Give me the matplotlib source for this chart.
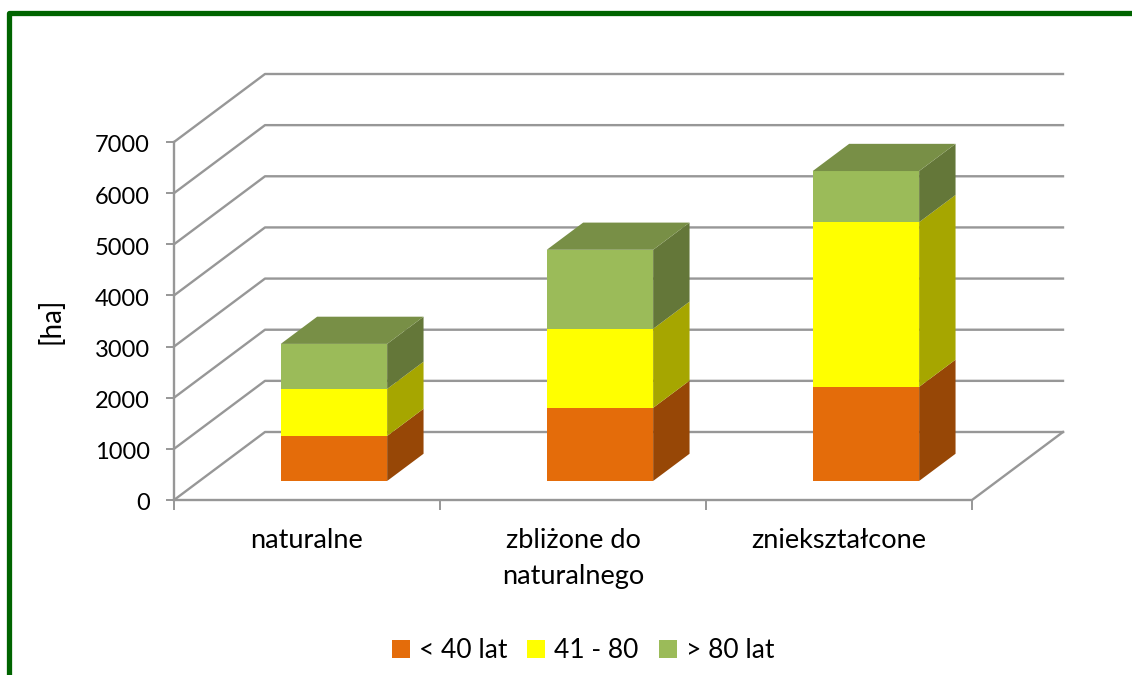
import matplotlib
matplotlib.use('Agg')
import matplotlib.pyplot as plt
from matplotlib.patches import Polygon, Rectangle
from matplotlib.transforms import ScaledTranslation

categories = ['naturalne', 'zbliżone do\nnaturalnego', 'zniekształcone']
young = [880, 1430, 1840]
middle = [920, 1545, 3220]
old = [880, 1545, 1000]
series_names = ['< 40 lat', '41 - 80', '> 80 lat']
yticks = [0, 1000, 2000, 3000, 4000, 5000, 6000, 7000]

front = ['#E46C0A', '#FFFF00', '#9BBB59']
side = ['#974706', '#A6A600', '#647739']
top_col = '#788F46'
grid_col = '#979797'

W, H = 1132, 675
plt.rcParams['font.family'] = ['Lato', 'DejaVu Sans']

fig = plt.figure(figsize=(W / 100, H / 100), dpi=100)
ax = fig.add_axes([174 / W, 1 - 500 / H, 798 / W, 358 / H])
ax.set_xlim(0, 3)
ax.set_ylim(0, 7000)
for s in ax.spines.values():
    s.set_visible(False)
ax.patch.set_visible(False)

# depth of the 3d box in data units
dx = 91 / 266
dy = 68 / 358 * 7000

for y in yticks:
    ax.plot([0, dx, 3 + dx], [y, y + dy, y + dy], color=grid_col, lw=1.7, clip_on=False, zorder=1)
ax.plot([0, 3, 3 + dx], [0, 0, dy], color=grid_col, lw=1.7, clip_on=False, zorder=1)
ax.plot([0, 0], [0, 7000], color=grid_col, lw=1.7, clip_on=False, zorder=1)

bar_w = 0.4
d0 = 0.28
d1 = 0.68
for i in range(3):
    x0 = i + 0.5 - bar_w / 2 + d0 * dx + 0.0055
    x1 = x0 + bar_w
    base = d0 * dy
    ddx = (d1 - d0) * dx
    ddy = (d1 - d0) * dy
    bottom = 0
    vals = [young[i], middle[i], old[i]]
    for k, v in enumerate(vals):
        y0 = base + bottom
        y1 = y0 + v
        ax.add_patch(Polygon([(x1, y0), (x1 + ddx, y0 + ddy), (x1 + ddx, y1 + ddy), (x1, y1)],
                             fc=side[k], ec='none', clip_on=False, zorder=3))
        ax.add_patch(Rectangle((x0, y0), bar_w, v, fc=front[k], ec='none', clip_on=False, zorder=4))
        bottom += v
    y1 = base + bottom
    ax.add_patch(Polygon([(x0, y1), (x1, y1), (x1 + ddx, y1 + ddy), (x0 + ddx, y1 + ddy)],
                         fc=top_col, ec='none', clip_on=False, zorder=4))

ax.set_xticks([0, 1, 2, 3])
ax.set_xticklabels([])
ax.set_xticks([0.5, 1.5, 2.5], labels=categories, minor=True, linespacing=1.55)
ax.tick_params(axis='x', which='major', length=7, width=1.4, color=grid_col)
ax.tick_params(axis='x', which='minor', length=0, pad=20, labelsize=19.5, labelcolor='black')
ax.set_yticks(yticks)
ax.tick_params(axis='y', length=6, width=1.4, color=grid_col, labelsize=17, labelcolor='black', pad=11.5)
shift = ScaledTranslation(0, -2 / 100, fig.dpi_scale_trans)
for t in ax.get_yticklabels():
    t.set_va('center_baseline')
    t.set_transform(t.get_transform() + shift)
ax.set_ylabel('[ha]', fontsize=20, color='black', labelpad=22)

handles = [Rectangle((0, 0), 1, 1, fc=c, ec='none') for c in front]
fig.legend(handles, series_names, loc='center', bbox_to_anchor=(583 / W, 1 - 651 / H), ncol=3, frameon=False,
           fontsize=19, handlelength=0.68, handleheight=0.68, handletextpad=0.35, columnspacing=0.75,
           labelcolor='black')

# green frame, open on the right and at the bottom
fig.add_artist(plt.Line2D([9 / W, 9 / W, 1], [0, 1 - 12.5 / H, 1 - 12.5 / H], color='#006400', lw=3.8,
                          solid_joinstyle='round'))

fig.savefig('out.png', dpi=100, facecolor='white')
